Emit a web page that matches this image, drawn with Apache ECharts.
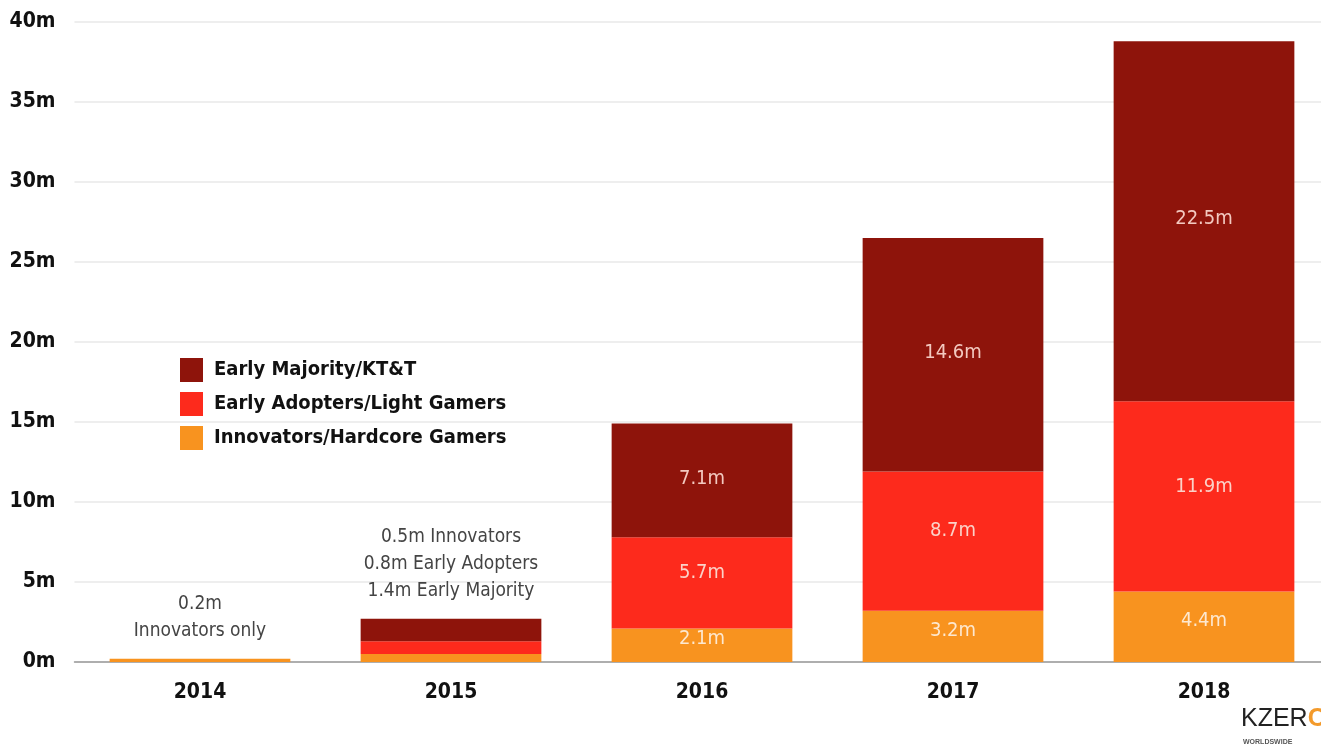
<!DOCTYPE html>
<html>
<head>
<meta charset="utf-8">
<script src="https://cdn.jsdelivr.net/npm/echarts@6/dist/echarts.min.js"></script>
<style>
html,body{margin:0;padding:0;background:#fff;overflow:hidden;}
#chart{width:1330px;height:752px;}
</style>
</head>
<body>
<div id="chart"></div>
<script>
const categories = ['2014', '2015', '2016', '2017', '2018'];
const innovators = [0.2, 0.5, 2.1, 3.2, 4.4];
const earlyAdopters = [0, 0.8, 5.7, 8.7, 11.9];
const earlyMajority = [0, 1.4, 7.1, 14.6, 22.5];
const annotations = ['0.2m\nInnovators only', '0.5m Innovators\n0.8m Early Adopters\n1.4m Early Majority', '', '', ''];
const seriesNames = ['Early Majority/KT&T', 'Early Adopters/Light Gamers', 'Innovators/Hardcore Gamers'];

const FONT = '"Liberation Sans Narrow", "DejaVu Sans Condensed", "Roboto", sans-serif';
const colors = { majority: '#8e140b', adopters: '#fd2a1c', innovators: '#f8931f' };

function innerLabel(color, dy) {
  return {
    show: true,
    position: 'inside',
    offset: [0, dy],
    color: color,
    fontFamily: FONT,
    fontSize: 20,
    formatter: p => (p.value >= 2 ? p.value.toFixed(1) + 'm' : '')
  };
}

const chart = echarts.init(document.getElementById('chart'));
chart.setOption({
  animation: false,
  backgroundColor: '#ffffff',
  grid: { left: 74.5, right: 0.5, top: 22, bottom: 90 },
  legend: {
    data: seriesNames,
    orient: 'vertical',
    left: 180,
    top: 358,
    padding: 0,
    itemWidth: 23,
    itemHeight: 24,
    itemGap: 10,
    icon: 'rect',
    textStyle: { fontFamily: FONT, fontSize: 20, fontWeight: 'bold', color: '#111', padding: [0, 0, 0, 6] }
  },
  xAxis: {
    type: 'category',
    data: categories,
    axisLine: { lineStyle: { color: '#999', width: 1.5 } },
    axisTick: { show: false },
    axisLabel: { fontFamily: FONT, fontSize: 21, fontWeight: 'bold', color: '#111', margin: 20 }
  },
  yAxis: {
    type: 'value',
    min: 0,
    max: 40,
    interval: 5,
    axisLine: { show: false },
    axisTick: { show: false },
    splitLine: { lineStyle: { color: '#e8e8e8', width: 1.5 } },
    axisLabel: { formatter: '{value}m', fontFamily: FONT, fontSize: 21, fontWeight: 'bold', color: '#111', margin: 19 }
  },
  series: [
    {
      name: seriesNames[2], type: 'bar', stack: 'total', data: innovators, barWidth: '72%',
      itemStyle: { color: colors.innovators }, label: innerLabel('#fde8d0', -6)
    },
    {
      name: seriesNames[1], type: 'bar', stack: 'total', data: earlyAdopters,
      itemStyle: { color: colors.adopters }, label: innerLabel('#fbd2c8', -10)
    },
    {
      name: seriesNames[0], type: 'bar', stack: 'total', data: earlyMajority,
      itemStyle: { color: colors.majority }, label: innerLabel('#f3c9c0', -2)
    },
    {
      name: 'annot', type: 'bar', stack: 'total', data: categories.map(() => 0),
      itemStyle: { color: 'transparent' },
      label: {
        show: true, position: 'top', distance: 14,
        fontFamily: FONT, fontSize: 19, lineHeight: 27, color: '#444', align: 'center',
        formatter: p => annotations[p.dataIndex]
      }
    }
  ],
  graphic: [
    {
      type: 'text', left: 1241, top: 707,
      style: {
        text: '{a|KZER}{b|O}',
        rich: {
          a: { fontFamily: '"Liberation Sans", sans-serif', fontSize: 25, fill: '#222' },
          b: { fontFamily: '"Liberation Sans", sans-serif', fontSize: 25, fill: '#f39a2b', fontWeight: 'bold' }
        }
      }
    },
    {
      type: 'text', left: 1243, top: 739,
      style: { text: 'WORLDSWIDE', fontFamily: '"Liberation Sans", sans-serif', fontSize: 7, fontWeight: 'bold', fill: '#555' }
    }
  ]
});
</script>
</body>
</html>
